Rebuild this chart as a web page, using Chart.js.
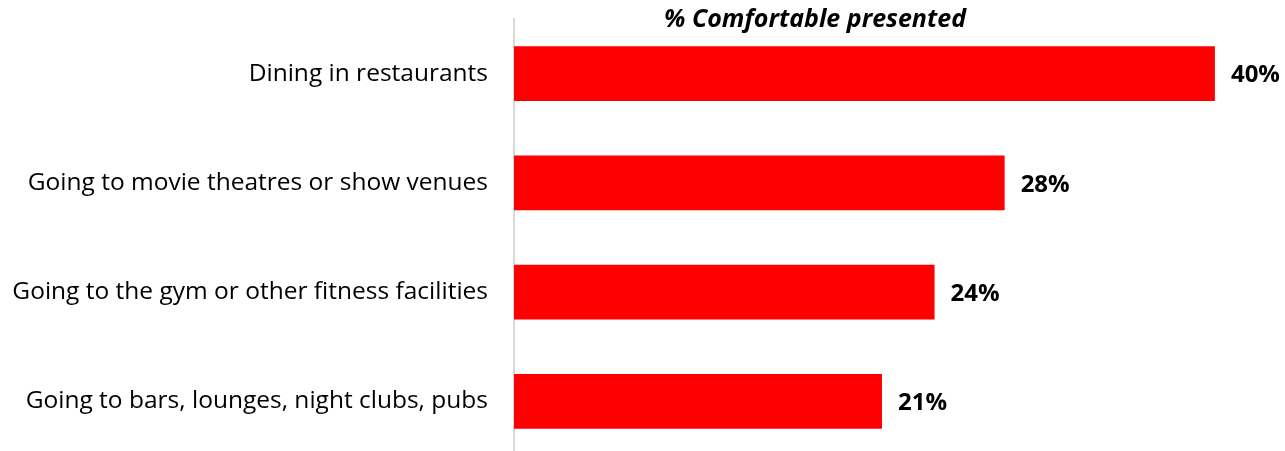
<!DOCTYPE html>
<html>
<head>
<meta charset="utf-8">
<script src="https://cdn.jsdelivr.net/npm/chart.js@4"></script>
<style>
  html, body { margin: 0; padding: 0; background: #ffffff; overflow: hidden; }
  canvas { display: block; }
</style>
</head>
<body>
<canvas id="c" width="1285" height="456" style="width:1285px;height:456px"></canvas>
<script>
const categories = [
  "Dining in restaurants",
  "Going to movie theatres or show venues",
  "Going to the gym or other fitness facilities",
  "Going to bars, lounges, night clubs, pubs"
];
const comfortableValues = [40, 28, 24, 21];
const chartTitle = "% Comfortable presented";

const FONT = "'Open Sans', sans-serif";

const valueLabels = {
  id: 'valueLabels',
  afterDatasetsDraw(chart) {
    const ctx = chart.ctx;
    const meta = chart.getDatasetMeta(0);
    ctx.save();
    ctx.fillStyle = '#000000';
    ctx.font = 'bold 24px ' + FONT;
    ctx.textAlign = 'left';
    ctx.textBaseline = 'middle';
    meta.data.forEach((bar, i) => {
      ctx.fillText(comfortableValues[i] + '%', bar.x + 16, bar.y + 2);
    });
    ctx.restore();
  }
};

const topTitle = {
  id: 'topTitle',
  afterDraw(chart) {
    const ctx = chart.ctx;
    ctx.save();
    ctx.fillStyle = '#000000';
    ctx.font = 'italic bold 25px ' + FONT;
    ctx.textAlign = 'center';
    ctx.textBaseline = 'middle';
    ctx.fillText(chartTitle, chart.chartArea.left + 301, 20);
    ctx.restore();
  }
};

new Chart(document.getElementById('c'), {
  type: 'bar',
  data: {
    labels: categories,
    datasets: [{
      data: comfortableValues,
      backgroundColor: '#ff0000',
      borderWidth: 0,
      categoryPercentage: 1.0,
      barPercentage: 0.503
    }]
  },
  options: {
    indexAxis: 'y',
    responsive: false,
    maintainAspectRatio: false,
    animation: false,
    layout: { padding: { top: 19, right: 0, bottom: 0, left: 0 } },
    plugins: {
      legend: { display: false },
      tooltip: { enabled: false },
      title: { display: false }
    },
    scales: {
      x: {
        display: false,
        min: 0,
        max: 44
      },
      y: {
        grid: { display: false, drawTicks: false },
        border: { display: true, color: '#d9d9d9', width: 2 },
        ticks: {
          color: '#000000',
          padding: 26,
          font: { family: FONT, size: 24.5 }
        },
        afterFit(scale) {
          scale.width = 514;
          scale.paddingTop = 0;
          scale.paddingBottom = 0;
        }
      }
    }
  },
  plugins: [valueLabels, topTitle]
});
</script>
</body>
</html>
